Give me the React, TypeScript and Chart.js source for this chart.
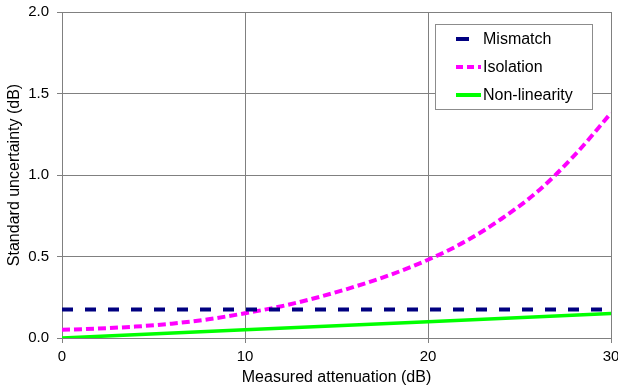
import React, { useEffect, useRef } from "react";
import { Chart, registerables } from "chart.js";

Chart.register(...registerables);

// ---- Data ----
const isolationX = [0, 2, 4, 6, 8, 10, 12, 14, 16, 18, 20, 22, 24, 26, 28, 30];
const isolationY = [0.05, 0.058, 0.07, 0.088, 0.115, 0.152, 0.195, 0.25, 0.315, 0.39, 0.48, 0.59, 0.73, 0.9, 1.12, 1.38];

const mismatchX = [0, 30];
const mismatchY = [0.175, 0.175];

const nonLinearityX = [0, 10, 20, 30];
const nonLinearityY = [0.0, 0.05, 0.1, 0.15];

const seriesNames = ["Mismatch", "Isolation", "Non-linearity"];
const seriesColors = ["#000080", "#FF00FF", "#00FF00"];

const xTitle = "Measured attenuation (dB)";
const yTitle = "Standard uncertainty (dB)";

const FONT = "'Liberation Sans', Arial, sans-serif";

const legendDashes: number[][] = [[13, 30], [7, 4], []];

const boxLegend = {
  id: "boxLegend",
  afterDraw(chart: any) {
    const { ctx, chartArea } = chart;
    const w = 157;
    const h = 85;
    const x0 = Math.round(chartArea.right - 19 - w) + 0.5;
    const y0 = Math.round(chartArea.top + 12) + 0.5;
    ctx.save();
    ctx.fillStyle = "#ffffff";
    ctx.fillRect(x0, y0, w, h);
    ctx.strokeStyle = "#8c8c8c";
    ctx.lineWidth = 1;
    ctx.strokeRect(x0, y0, w, h);
    const rowH = 28;
    chart.data.datasets.forEach((ds: any, i: number) => {
      const cy = y0 + 14.5 + i * rowH;
      ctx.beginPath();
      ctx.setLineDash(legendDashes[i] || []);
      ctx.lineCap = "butt";
      ctx.strokeStyle = ds.borderColor;
      ctx.lineWidth = 4;
      ctx.moveTo(x0 + 20.5, cy);
      ctx.lineTo(x0 + 45.5, cy);
      ctx.stroke();
      ctx.setLineDash([]);
      ctx.fillStyle = "#000";
      ctx.font = `16px ${FONT}`;
      ctx.textBaseline = "middle";
      ctx.textAlign = "left";
      ctx.fillText(ds.label, x0 + 47.5, cy + 1);
    });
    ctx.restore();
  },
};

export default function App() {
  const canvasRef = useRef<HTMLCanvasElement | null>(null);

  useEffect(() => {
    document.body.style.margin = "0";
    const canvas = canvasRef.current;
    if (!canvas) return;

    const toPts = (xs: number[], ys: number[]) => xs.map((x, i) => ({ x, y: ys[i] }));

    const chart = new Chart(canvas, {
      type: "line",
      data: {
        datasets: [
          {
            label: seriesNames[0],
            data: toPts(mismatchX, mismatchY),
            borderColor: seriesColors[0],
            backgroundColor: seriesColors[0],
            borderWidth: 4,
            borderDash: [11, 12],
            pointRadius: 0,
            fill: false,
          },
          {
            label: seriesNames[1],
            data: toPts(isolationX, isolationY),
            borderColor: seriesColors[1],
            backgroundColor: seriesColors[1],
            borderWidth: 4,
            borderDash: [8, 4],
            pointRadius: 0,
            cubicInterpolationMode: "monotone",
            fill: false,
          },
          {
            label: seriesNames[2],
            data: toPts(nonLinearityX, nonLinearityY),
            borderColor: seriesColors[2],
            backgroundColor: seriesColors[2],
            borderWidth: 3.5,
            pointRadius: 0,
            fill: false,
          },
        ],
      },
      options: {
        animation: false,
        responsive: false,
        maintainAspectRatio: false,
        layout: { padding: { left: 0, top: 12, right: 7, bottom: 0 } },
        plugins: {
          legend: { display: false },
          tooltip: { enabled: false },
        },
        scales: {
          x: {
            type: "linear",
            min: 0,
            max: 30,
            ticks: {
              stepSize: 10,
              color: "#000",
              font: { family: FONT, size: 15 },
              padding: 5,
              maxRotation: 0,
            },
            grid: { color: "#808080", lineWidth: 1, tickLength: 5, drawTicks: true },
            border: { color: "#808080", width: 1 },
            title: {
              display: true,
              text: xTitle,
              color: "#000",
              font: { family: FONT, size: 16 },
              padding: { top: 0, bottom: 3 },
            },
            afterFit(scale: any) {
              scale.height = 52;
              scale.paddingRight = 0;
              scale.paddingLeft = 0;
            },
          },
          y: {
            type: "linear",
            min: 0,
            max: 2,
            ticks: {
              stepSize: 0.5,
              color: "#000",
              font: { family: FONT, size: 15 },
              padding: 8,
              callback: (v: any) => Number(v).toFixed(1),
            },
            grid: { color: "#808080", lineWidth: 1, tickLength: 5, drawTicks: true },
            border: { color: "#808080", width: 1 },
            title: {
              display: true,
              text: yTitle,
              color: "#000",
              font: { family: FONT, size: 16 },
              padding: { top: 5, bottom: 0 },
            },
            afterFit(scale: any) {
              scale.width = 62;
              scale.paddingTop = 0;
              scale.paddingBottom = 0;
            },
          },
        },
      },
      plugins: [boxLegend],
    });

    return () => chart.destroy();
  }, []);

  return (
    <div style={{ width: 618, height: 390 }}>
      <canvas ref={canvasRef} width={618} height={390} style={{ width: 618, height: 390, display: "block" }} />
    </div>
  );
}
